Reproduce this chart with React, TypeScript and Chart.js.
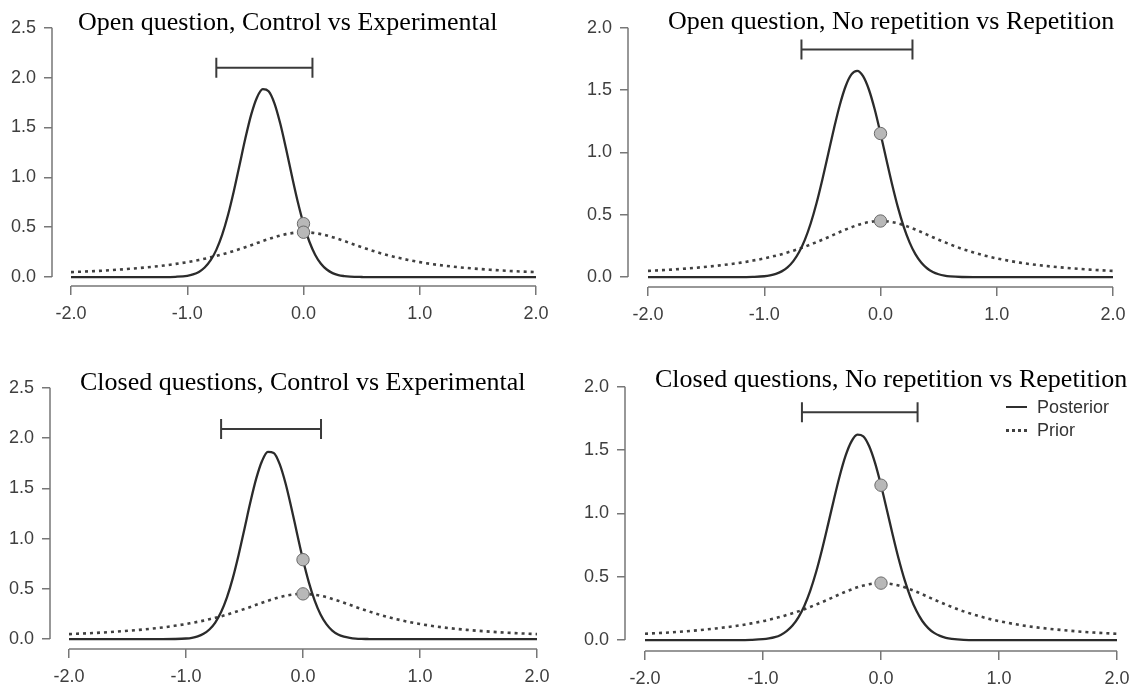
import React, { useEffect, useRef } from "react";
import { Chart, registerables } from "chart.js";

Chart.register(...registerables);

// ---- data ----
const xGrid = [
  -2.0, -1.8, -1.6, -1.4, -1.2, -1.1, -1.0, -0.95, -0.9, -0.85, -0.8, -0.75, -0.7, -0.65, -0.6, -0.55,
  -0.5, -0.45, -0.4, -0.35, -0.3, -0.25, -0.2, -0.15, -0.1, -0.05, 0, 0.05, 0.1, 0.15, 0.2, 0.25,
  0.3, 0.35, 0.4, 0.45, 0.5, 0.55, 0.6, 0.7, 0.8, 0.9, 1.0, 1.2, 1.4, 1.6, 1.8, 2.0,
];

const priorDensity = [
  0.050, 0.060, 0.074, 0.092, 0.116, 0.132, 0.150, 0.161, 0.172, 0.184, 0.198, 0.212, 0.227, 0.244, 0.262, 0.281,
  0.300, 0.320, 0.341, 0.362, 0.382, 0.400, 0.417, 0.431, 0.441, 0.448, 0.450, 0.448, 0.441, 0.431, 0.417, 0.400,
  0.382, 0.362, 0.341, 0.320, 0.300, 0.281, 0.262, 0.227, 0.198, 0.172, 0.150, 0.116, 0.092, 0.074, 0.060, 0.050,
];

const posteriorOpenControlExp = [
  0, 0, 0, 0, 0, 0.003, 0.013, 0.027, 0.052, 0.096, 0.167, 0.273, 0.423, 0.620, 0.859, 1.125,
  1.392, 1.629, 1.802, 1.885, 1.864, 1.743, 1.540, 1.287, 1.016, 0.759, 0.536, 0.357, 0.225, 0.134, 0.076, 0.040,
  0.020, 0.010, 0.004, 0.002, 0.001, 0, 0, 0, 0, 0, 0, 0, 0, 0, 0, 0,
];

const posteriorOpenRepetition = [
  0, 0, 0, 0, 0, 0.002, 0.007, 0.014, 0.026, 0.046, 0.078, 0.128, 0.201, 0.301, 0.432, 0.594,
  0.783, 0.987, 1.193, 1.381, 1.531, 1.626, 1.655, 1.612, 1.505, 1.346, 1.152, 0.945, 0.743, 0.559, 0.403, 0.279,
  0.184, 0.117, 0.071, 0.041, 0.023, 0.012, 0.006, 0.001, 0, 0, 0, 0, 0, 0, 0, 0,
];

const posteriorClosedControlExp = [
  0, 0, 0, 0, 0, 0.001, 0.006, 0.013, 0.027, 0.053, 0.096, 0.165, 0.269, 0.415, 0.607, 0.840,
  1.099, 1.361, 1.596, 1.772, 1.862, 1.852, 1.743, 1.553, 1.310, 1.046, 0.790, 0.565, 0.383, 0.245, 0.149, 0.085,
  0.046, 0.024, 0.012, 0.005, 0.002, 0.001, 0, 0, 0, 0, 0, 0, 0, 0, 0, 0,
];

const posteriorClosedRepetition = [
  0, 0, 0, 0, 0, 0.002, 0.007, 0.013, 0.023, 0.041, 0.071, 0.115, 0.180, 0.270, 0.389, 0.538,
  0.714, 0.908, 1.107, 1.296, 1.456, 1.569, 1.622, 1.609, 1.530, 1.397, 1.223, 1.028, 0.828, 0.640, 0.475, 0.338,
  0.231, 0.151, 0.095, 0.057, 0.033, 0.018, 0.010, 0.002, 0, 0, 0, 0, 0, 0, 0, 0,
];

const xTickValues = [-2, -1, 0, 1, 2];
const yTicksTo25 = [0, 0.5, 1, 1.5, 2, 2.5];
const yTicksTo20 = [0, 0.5, 1, 1.5, 2];

const panelTitles = [
  "Open question, Control vs Experimental",
  "Open question, No repetition vs Repetition",
  "Closed questions, Control vs Experimental",
  "Closed questions, No repetition vs Repetition",
];

const ciLower = [-0.75, -0.68, -0.7, -0.67];
const ciUpper = [0.077, 0.275, 0.154, 0.31];
const ciHeight = [2.1, 1.825, 2.09, 1.8];
const posteriorAtZero = [0.536, 1.152, 0.79, 1.223];
const priorAtZero = [0.45, 0.45, 0.45, 0.45];
const legendLabels = ["Posterior", "Prior"];

// ---- layout (pixels) ----
const layouts = [
  { axisX: 52, left2: 71, right2: 536, y0: 277, yTop: 25, xAxisY: 286, titleX: 78, titleBase: 31 },
  { axisX: 628, left2: 648, right2: 1113, y0: 277, yTop: 25, xAxisY: 287, titleX: 668, titleBase: 30 },
  { axisX: 50, left2: 69, right2: 537, y0: 639, yTop: 385, xAxisY: 649, titleX: 80, titleBase: 391 },
  { axisX: 625, left2: 645, right2: 1117, y0: 640, yTop: 384, xAxisY: 651, titleX: 655, titleBase: 388 },
];

const Y_AXIS_W = 50;
const X_AXIS_H = 42;
const PAD_TOP = 16;
const PAD_RIGHT = 26;
const AXIS_COLOR = "#777777";
const LABEL_COLOR = "#3e3e3e";
const CURVE_COLOR = "#2b2b2b";
const SANS = "'Liberation Sans', Arial, sans-serif";

type PanelProps = {
  idx: number;
  posterior: number[];
  yTicks: number[];
};

function Panel({ idx, posterior, yTicks }: PanelProps) {
  const ref = useRef<HTMLCanvasElement | null>(null);
  const L = layouts[idx];
  const ymax = yTicks[yTicks.length - 1];
  const pxPerX = (L.right2 - L.left2) / 4;
  const pxPerY = (L.y0 - L.yTop) / ymax;
  const xmin = -2 - (L.left2 - L.axisX) / pxPerX;
  const ymin = -(L.xAxisY - L.y0) / pxPerY;
  const width = Y_AXIS_W + (L.right2 - L.axisX) + PAD_RIGHT;
  const height = PAD_TOP + (L.xAxisY - L.yTop) + X_AXIS_H;
  const left = L.axisX - Y_AXIS_W;
  const top = L.yTop - PAD_TOP;

  useEffect(() => {
    if (!ref.current) return;
    const axisLines = {
      id: "rAxes" + idx,
      afterDraw(chart: any) {
        const { ctx, chartArea, scales } = chart;
        const xs = scales.x;
        const ys = scales.y;
        ctx.save();
        ctx.strokeStyle = AXIS_COLOR;
        ctx.lineWidth = 1.5;
        ctx.beginPath();
        ctx.moveTo(chartArea.left, ys.getPixelForValue(yTicks[0]));
        ctx.lineTo(chartArea.left, ys.getPixelForValue(ymax));
        ctx.moveTo(xs.getPixelForValue(xTickValues[0]), chartArea.bottom);
        ctx.lineTo(xs.getPixelForValue(xTickValues[xTickValues.length - 1]), chartArea.bottom);
        ctx.stroke();
        ctx.restore();
      },
    };
    const chart = new Chart(ref.current, {
      type: "line",
      data: {
        datasets: [
          {
            label: "points",
            data: [
              { x: 0, y: posteriorAtZero[idx] },
              { x: 0, y: priorAtZero[idx] },
            ],
            showLine: false,
            pointRadius: 6.2,
            pointBackgroundColor: "#b8b8b8",
            pointBorderColor: "#6a6a6a",
            pointBorderWidth: 1,
          },
          {
            label: "interval",
            data: [
              { x: ciLower[idx], y: ciHeight[idx] },
              { x: ciUpper[idx], y: ciHeight[idx] },
            ],
            borderColor: "#3a3a3a",
            borderWidth: 2,
            pointStyle: "line",
            pointRotation: 90,
            pointRadius: 10,
            pointBorderColor: "#3a3a3a",
            pointBorderWidth: 2,
          },
          {
            label: "Posterior",
            data: xGrid.map((x, i) => ({ x, y: posterior[i] })),
            borderColor: CURVE_COLOR,
            borderWidth: 2.3,
            pointRadius: 0,
            cubicInterpolationMode: "monotone",
          },
          {
            label: "Prior",
            data: xGrid.map((x, i) => ({ x, y: priorDensity[i] })),
            borderColor: "#404040",
            borderWidth: 2.6,
            borderDash: [3, 4],
            pointRadius: 0,
            cubicInterpolationMode: "monotone",
          },
        ],
      } as any,
      options: {
        animation: false,
        responsive: false,
        devicePixelRatio: 1,
        events: [],
        layout: { padding: { top: PAD_TOP, right: PAD_RIGHT, left: 0, bottom: 0 } },
        plugins: { legend: { display: false }, tooltip: { enabled: false }, title: { display: false } },
        scales: {
          x: {
            type: "linear",
            min: xmin,
            max: 2,
            bounds: "data",
            afterBuildTicks: (s: any) => {
              s.ticks = xTickValues.map((v) => ({ value: v }));
            },
            afterFit: (s: any) => {
              s.height = X_AXIS_H;
            },
            ticks: {
              callback: (v: any) => Number(v).toFixed(1),
              font: { family: SANS, size: 18 },
              color: LABEL_COLOR,
              padding: 8,
              maxRotation: 0,
              autoSkip: false,
            },
            grid: { drawOnChartArea: false, drawTicks: true, tickLength: 9, color: AXIS_COLOR, lineWidth: 1.5 },
            border: { display: false },
          },
          y: {
            type: "linear",
            min: ymin,
            max: ymax,
            bounds: "data",
            afterBuildTicks: (s: any) => {
              s.ticks = yTicks.map((v) => ({ value: v }));
            },
            afterFit: (s: any) => {
              s.width = Y_AXIS_W;
            },
            ticks: {
              callback: (v: any) => Number(v).toFixed(1),
              font: { family: SANS, size: 18 },
              color: LABEL_COLOR,
              padding: 8,
              autoSkip: false,
            },
            grid: { drawOnChartArea: false, drawTicks: true, tickLength: 8, color: AXIS_COLOR, lineWidth: 1.5 },
            border: { display: false },
          },
        },
      } as any,
      plugins: [axisLines],
    });
    return () => chart.destroy();
  }, []);

  return (
    <>
      <canvas
        ref={ref}
        width={width}
        height={height}
        style={{ position: "absolute", left, top, width, height }}
      />
      <div
        style={{
          position: "absolute",
          left: L.titleX,
          top: L.titleBase - 22,
          fontFamily: "'Liberation Serif', 'Times New Roman', serif",
          fontSize: 26,
          lineHeight: "26px",
          color: "#000",
          whiteSpace: "nowrap",
        }}
      >
        {panelTitles[idx]}
      </div>
    </>
  );
}

function Legend() {
  const rowStyle: React.CSSProperties = {
    position: "absolute",
    left: 1006,
    height: 22,
    display: "flex",
    alignItems: "center",
    fontFamily: SANS,
    fontSize: 18,
    color: "#333",
    whiteSpace: "nowrap",
  };
  return (
    <>
      <div style={{ ...rowStyle, top: 396 }}>
        <span style={{ display: "inline-block", width: 21, borderTop: "2px solid #2f2f2f", marginRight: 10 }} />
        {legendLabels[0]}
      </div>
      <div style={{ ...rowStyle, top: 419 }}>
        <span style={{ display: "inline-block", width: 21, borderTop: "3px dotted #404040", marginRight: 10 }} />
        {legendLabels[1]}
      </div>
    </>
  );
}

export default function App() {
  return (
    <div style={{ position: "absolute", left: 0, top: 0, width: 1147, height: 689, background: "#fff", overflow: "hidden" }}>
      <Panel idx={0} posterior={posteriorOpenControlExp} yTicks={yTicksTo25} />
      <Panel idx={1} posterior={posteriorOpenRepetition} yTicks={yTicksTo20} />
      <Panel idx={2} posterior={posteriorClosedControlExp} yTicks={yTicksTo25} />
      <Panel idx={3} posterior={posteriorClosedRepetition} yTicks={yTicksTo20} />
      <Legend />
    </div>
  );
}
